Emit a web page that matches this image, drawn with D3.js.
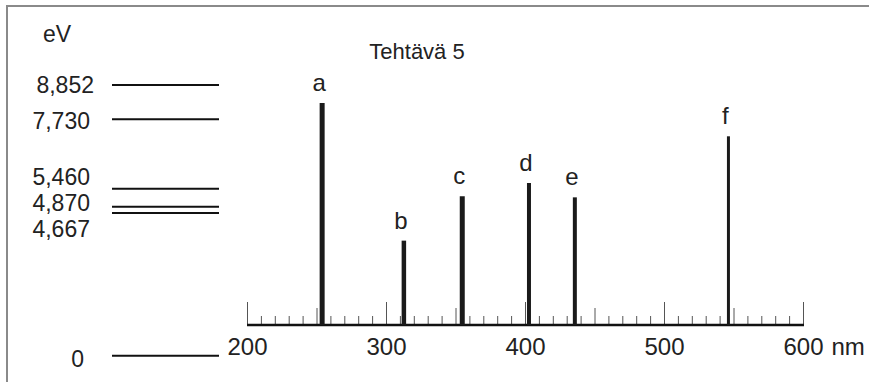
<!DOCTYPE html>
<html>
<head>
<meta charset="utf-8">
<script src="https://cdn.jsdelivr.net/npm/d3@7"></script>
<style>
  body { margin: 0; background: #fff; }
  svg { display: block; font-family: "Liberation Sans", Arial, sans-serif; }
</style>
</head>
<body>
<div id="chart"></div>
<script>
// energiatasot (eV)
const levels = [0, 4.667, 4.870, 5.460, 7.730, 8.852];
const levelLabels = ["0", "4,667", "4,870", "5,460", "7,730", "8,852"];

// spektriviivat
const lineNames = ["a", "b", "c", "d", "e", "f"];
const lineWavelengths = [253.7, 312.5, 354.5, 402.5, 435.5, 546];
const lineIntensities = [10, 3.8, 5.8, 6.4, 5.75, 8.5];

const tickLabels = [200, 300, 400, 500, 600];

(function () {
    const width = 869, height = 382;

    const svg = d3.select("#chart").append("svg")
        .attr("width", width)
        .attr("height", height);

    // kehys (vain vasen ja ylä)
    svg.append("path")
        .attr("d", `M7,${height} V6 H${width}`)
        .attr("fill", "none")
        .attr("stroke", "#8a8a8a")
        .attr("stroke-width", 2);

    const x = d3.scaleLinear().domain([200, 600]).range([247.5, 803.5]);
    const yI = d3.scaleLinear().domain([0, 10]).range([325, 103]);
    const yE = d3.scaleLinear().domain([0, 8.852]).range([355.7, 85]);

    // otsikko
    svg.append("text")
        .attr("x", 417).attr("y", 59)
        .attr("text-anchor", "middle")
        .style("font-size", "22px")
        .attr("fill", "#222")
        .text("Tehtävä 5");

    // energiatasot
    svg.append("text")
        .attr("x", 57).attr("y", 42)
        .attr("text-anchor", "middle")
        .style("font-size", "23px")
        .attr("fill", "#222")
        .text("eV");

    svg.append("g")
        .selectAll("line")
        .data(levels)
        .join("line")
        .attr("x1", 112).attr("x2", 219)
        .attr("y1", d => yE(d)).attr("y2", d => yE(d))
        .attr("stroke", "#111")
        .attr("stroke-width", 2);

    // tekstien siirrot ettei ne mene päällekkäin
    const labelDy = { 0: 3, 4.667: 16, 4.870: -4, 5.46: -12, 7.73: 1, 8.852: 0 };
    const labelX = { 0: 84, 8.852: 94 };
    svg.append("g")
        .selectAll("text")
        .data(levels)
        .join("text")
        .attr("x", d => labelX[d] || 90)
        .attr("y", d => yE(d) + (labelDy[d] || 0))
        .attr("dy", "0.36em")
        .attr("text-anchor", "end")
        .style("font-size", "23px")
        .attr("fill", "#222")
        .text((d, i) => levelLabels[i]);

    // akseli
    const ax = svg.append("g");
    ax.selectAll("line")
        .data(d3.range(200, 601, 10))
        .join("line")
        .attr("x1", d => x(d)).attr("x2", d => x(d))
        .attr("y1", 325)
        .attr("y2", d => d % 100 === 0 ? 302 : d % 50 === 0 ? 308 : 316)
        .attr("stroke", "#555")
        .attr("stroke-width", 1);

    ax.append("line")
        .attr("x1", x(200) - 0.5).attr("x2", x(600) + 0.5)
        .attr("y1", 325).attr("y2", 325)
        .attr("stroke", "#111")
        .attr("stroke-width", 2.5);

    ax.selectAll("text")
        .data(tickLabels)
        .join("text")
        .attr("x", d => x(d))
        .attr("y", 355)
        .attr("text-anchor", "middle")
        .style("font-size", "24px")
        .attr("fill", "#222")
        .text(d => d);

    ax.append("text")
        .attr("x", x(600) + 28)
        .attr("y", 355)
        .style("font-size", "24px")
        .attr("fill", "#222")
        .text("nm");

    // viivat
    const strokeW = [5, 4.5, 5, 4, 4, 3];
    svg.append("g")
        .selectAll("line")
        .data(lineWavelengths)
        .join("line")
        .attr("x1", d => x(d)).attr("x2", d => x(d))
        .attr("y1", 325)
        .attr("y2", (d, i) => yI(lineIntensities[i]))
        .attr("stroke", "#1a1a1a")
        .attr("stroke-width", (d, i) => strokeW[i]);

    svg.append("g")
        .selectAll("text")
        .data(lineWavelengths)
        .join("text")
        .attr("x", d => x(d) - 3)
        .attr("y", (d, i) => yI(lineIntensities[i]) - 12)
        .attr("text-anchor", "middle")
        .style("font-size", "24px")
        .attr("fill", "#222")
        .text((d, i) => lineNames[i]);
})();
</script>
</body>
</html>
